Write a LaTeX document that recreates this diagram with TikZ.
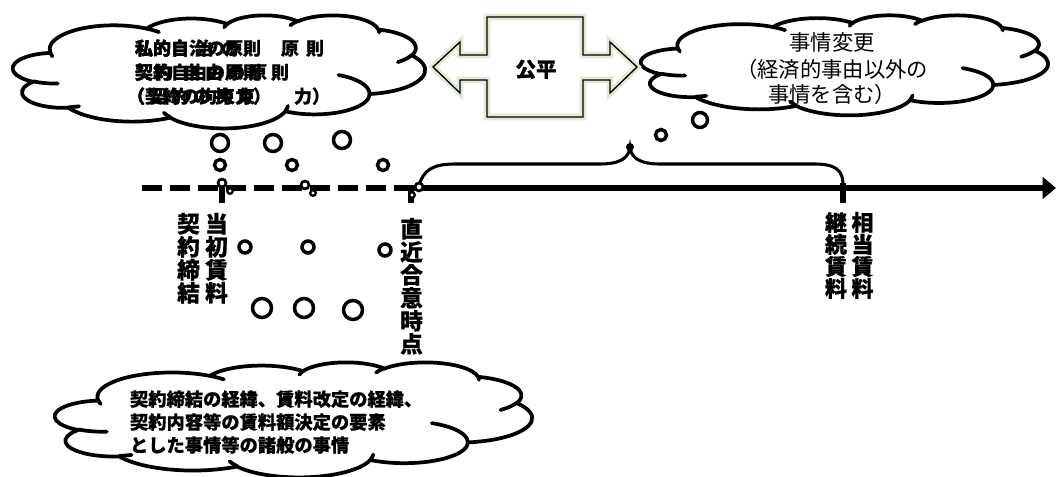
\documentclass[tikz,border=0pt]{standalone}
\usepackage{fontspec}
\newfontfamily\jp{Noto Sans CJK JP}[BoldFeatures={FakeBold=0.6}]
\usetikzlibrary{arrows.meta}
\newcommand\cc[2]{\makebox[#1pt][l]{#2}}
\newcommand\officecloud[4]{%
\begin{scope}[shift={(#1,#2)},x=#3pt,y=-#4pt]
\draw[cloudline] (39.00,143.70)
 arc[start angle=-187.746, delta angle=128.111, x radius=67.53, y radius=91.90]
 arc[start angle=-152.030, delta angle=106.592, x radius=53.33, y radius=72.67]
 arc[start angle=-153.483, delta angle=116.154, x radius=43.65, y radius=59.45]
 arc[start angle=-139.710, delta angle=129.498, x radius=48.57, y radius=65.95]
 arc[start angle=-74.767, delta angle=97.979, x radius=53.33, y radius=72.73]
 arc[start angle=-37.530, delta angle=119.392, x radius=67.75, y radius=92.20]
 arc[start angle=0.460, delta angle=121.528, x radius=57.85, y radius=78.67]
 arc[start angle=16.845, delta angle=129.404, x radius=67.52, y radius=92.15]
 arc[start angle=58.985, delta angle=91.212, x radius=77.20, y radius=105.43]
 arc[start angle=83.306, delta angle=139.799, x radius=43.60, y radius=59.18]
 arc[start angle=120.357, delta angle=143.756, x radius=43.45, y radius=59.45]
 -- cycle;
\draw[cloudinner] (46.93,261.77) arc[start angle=85.547, delta angle=34.810, x radius=43.45, y radius=59.45];
\draw[cloudinner] (69.28,348.99) arc[start angle=68.236, delta angle=15.070, x radius=43.60, y radius=59.18];
\draw[cloudinner] (164.78,390.90) arc[start angle=146.249, delta angle=12.223, x radius=67.52, y radius=92.15];
\draw[cloudinner] (288.27,347.51) arc[start angle=4.738, delta angle=12.107, x radius=67.52, y radius=92.15];
\draw[cloudinner] (341.29,229.54) arc[start angle=-64.026, delta angle=64.486, x radius=57.85, y radius=78.67];
\draw[cloudinner] (417.98,153.54) arc[start angle=23.212, delta angle=26.433, x radius=53.33, y radius=72.73];
\draw[cloudinner] (383.24,54.26) arc[start angle=-10.212, delta angle=11.033, x radius=48.57, y radius=65.95];
\draw[cloudinner] (290.78,39.52) arc[start angle=-156.288, delta angle=16.578, x radius=48.57, y radius=65.95];
\draw[cloudinner] (221.41,47.20) arc[start angle=-167.727, delta angle=14.244, x radius=43.65, y radius=59.45];
\draw[cloudinner] (140.00,51.92) arc[start angle=-59.635, delta angle=13.916, x radius=67.53, y radius=91.90];
\draw[cloudinner] (41.27,157.89) arc[start angle=163.194, delta angle=9.060, x radius=67.53, y radius=91.90];
\end{scope}}
\tikzset{
 cloudline/.style={line width=2.8pt, draw=black, fill=white, line join=round},
 cloudinner/.style={line width=2.8pt, draw=black, line cap=round},
 ring/.style={line width=2.6pt, draw=black, fill=white},
 tline/.style={line width=4.6pt, draw=black},
 tickmark/.style={line width=4.6pt, draw=black},
 brace/.style={line width=2.3pt, draw=black, line cap=round},
 txt/.style={inner sep=0pt, outer sep=0pt},
 boldA/.style={txt, font=\jp\bfseries\fontsize{13.5pt}{17pt}\selectfont},
 boldB/.style={txt, font=\jp\bfseries\fontsize{13.7pt}{17pt}\selectfont},
 vlab/.style={txt, anchor=north, align=center, font=\jp\bfseries\fontsize{17pt}{17.25pt}\selectfont},
 vlabs/.style={txt, anchor=north, align=center, font=\jp\bfseries\fontsize{16.5pt}{16.5pt}\selectfont},
}
\begin{document}
\begin{tikzpicture}[x=0.75pt,y=-0.75pt]
\useasboundingbox (0,0) rectangle (1056,477);

% clouds
\officecloud{13}{15}{0.71528}{0.19618}
\officecloud{641}{15}{0.70660}{0.17361}
\officecloud{55}{362}{0.82813}{0.19965}

% double arrow 公平
\path[fill=white, draw={rgb,255:red,226;green,233;blue,212}, line width=5pt, line join=miter]
 (433,67) -- (460,42) -- (460,55) -- (487,55) -- (487,17) -- (583,17) -- (583,55) -- (610,55) -- (610,42) -- (637,67)
 -- (610,93) -- (610,80) -- (583,80) -- (583,117) -- (487,117) -- (487,80) -- (460,80) -- (460,93) -- cycle;
\draw[line width=1pt, line join=miter]
 (433,67) -- (460,42) -- (460,55) -- (487,55) -- (487,17) -- (583,17) -- (583,55) -- (610,55) -- (610,42) -- (637,67)
 -- (610,93) -- (610,80) -- (583,80) -- (583,117) -- (487,117) -- (487,80) -- (460,80) -- (460,93) -- cycle;
\node[txt, anchor=base, font=\jp\bfseries\fontsize{15.5pt}{18pt}\selectfont] (fair) at (536,77) {公平};

% timeline
\coordinate (t0) at (142,188);
\coordinate (t1) at (411,188);
\coordinate (t2) at (1056,188);
\draw[tline, dash pattern=on 15pt off 6pt] (t0) -- (t1);
\draw[tline, -{Triangle[length=10pt,width=16pt]}] (t1) -- (t2);
\draw[tickmark] (222,186) -- (222,203);
\draw[tickmark] (411,186) -- (411,203);
\draw[tickmark] (843,183) -- (843,203);

% brace
\coordinate (bl) at (419,186);
\coordinate (bt) at (630,147);
\coordinate (br) at (843,184);
\draw[brace] (bl) .. controls (423,170) and (433,164) .. (455,164) -- (600,164)
  .. controls (620,164) and (629,158) .. (bt)
  .. controls (631,158) and (640,164) .. (660,164) -- (815,164)
  .. controls (836,164) and (843,171) .. (br);
\fill (bt) circle[radius=4];

% thought bubbles, upper left
\draw[ring] (220,143) circle[radius=8.5];
\draw[ring] (273,143) circle[radius=8.5];
\draw[ring] (342,140) circle[radius=8.5];
\draw[ring] (220,165) circle[radius=5.5];
\draw[ring] (292,165) circle[radius=5.5];
\draw[ring] (383,165) circle[radius=5.5];
\draw[ring, line width=2pt] (222,183) circle[radius=4];
\draw[ring, line width=1.7pt] (230,191) circle[radius=2.8];
\draw[ring, line width=2pt] (305,185) circle[radius=4];
\draw[ring, line width=1.7pt] (313,193) circle[radius=2.8];
\draw[ring, line width=2pt] (419,187) circle[radius=4];
\draw[ring, line width=1.7pt] (412,195) circle[radius=2.8];
% thought bubbles, lower
\draw[ring] (245,247) circle[radius=6];
\draw[ring] (308,247) circle[radius=6];
\draw[ring] (385,250) circle[radius=6];
\draw[ring] (262,308) circle[radius=9.5];
\draw[ring] (304,308) circle[radius=9.5];
\draw[ring] (353,310) circle[radius=9.5];
% thought bubbles, right
\draw[ring] (661,135) circle[radius=5.5];
\draw[ring] (700,120) circle[radius=7.5];

% upper-left cloud text (two overlapping layers as printed)
\node[boldA, anchor=base west] (la1) at (135,55) {私的自治の原則};
\node[boldA, anchor=base west] (lb1) at (135,55) {\cc{13.5}{私}\cc{13.5}{的}\cc{18.75}{自}\cc{18.75}{治}\cc{45}{の}\cc{18.75}{原}則};
\node[boldA, anchor=base west] (la2) at (135,79) {契約自由の原則};
\node[boldA, anchor=base west] (lb2) at (135,79) {\cc{15}{契}\cc{21}{約}\cc{16.5}{自}\cc{16.5}{由}\cc{16.5}{の}\cc{16.5}{原}則};
\node[boldA, anchor=base west] (la3) at (127,103) {（契約の拘束力）};
\node[boldA, anchor=base west] (lb3) at (127,103) {\cc{16.5}{（}\cc{16.5}{契}\cc{16.5}{約}\cc{16.5}{の}\cc{16.5}{拘}\cc{42.75}{束}\cc{13.5}{力}）};

% right cloud text
\node[txt, anchor=base, font=\jp\fontsize{16pt}{19.5pt}\selectfont] (rc1) at (832,51) {事情変更};
\node[txt, anchor=base, font=\jp\fontsize{16pt}{19.5pt}\selectfont] (rc2) at (832,78) {（経済的事由以外の};
\node[txt, anchor=base, font=\jp\fontsize{16pt}{19.5pt}\selectfont] (rc3) at (832,103) {事情を含む）};

% bottom cloud text
\node[boldB, anchor=base west] (bc1) at (130,406) {契約締結の経緯、賃料改定の経緯、};
\node[boldB, anchor=base west] (bc2) at (130,429) {契約内容等の賃料額決定の要素};
\node[boldB, anchor=base west] (bc3) at (130,452) {とした事情等の諸般の事情};

% vertical labels
\node[vlab] (v1) at (188.5,213) {契\\約\\締\\結};
\node[vlab] (v2) at (216.5,213) {当\\初\\賃\\料};
\node[vlab] (v3) at (411.5,218) {直\\近\\合\\意\\時\\点};
\node[vlabs] (v4) at (836,212) {継\\続\\賃\\料};
\node[vlabs] (v5) at (862.5,212) {相\\当\\賃\\料};
\end{tikzpicture}
\end{document}
